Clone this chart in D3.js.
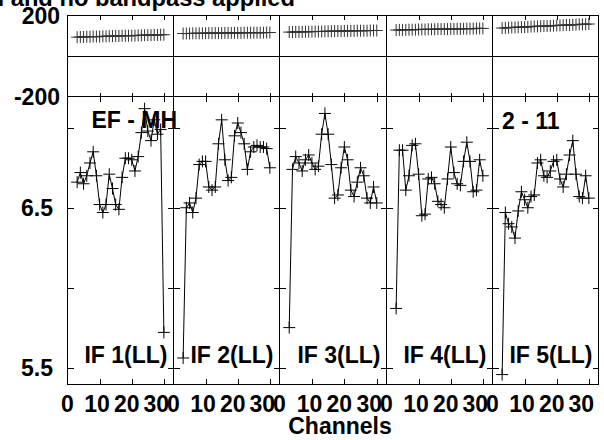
<!DOCTYPE html>
<html><head><meta charset="utf-8">
<script src="https://cdn.jsdelivr.net/npm/d3@7"></script>
<style>
html,body{margin:0;padding:0;background:#fff;overflow:hidden;}
svg{display:block;}
text{font-family:"Liberation Sans",Arial,Helvetica,sans-serif;font-weight:bold;font-size:23px;fill:#000;}
</style></head><body>
<svg id="c" width="604" height="440"></svg>
<script>
// ---- data ----
const channels = [3,4,5,6,7,8,9,10,11,12,13,14,15,16,17,18,19,20,21,22,23,24,25,26,27,28,29,30];
const ifLabels = ["IF 1(LL)","IF 2(LL)","IF 3(LL)","IF 4(LL)","IF 5(LL)"];
const ampIF1 = [6.66,6.72,6.65,6.70,6.78,6.85,6.70,6.52,6.47,6.52,6.71,6.62,6.52,6.49,6.69,6.81,6.81,6.80,6.73,6.82,6.97,7.12,6.98,6.92,7.05,6.96,6.99,5.72];
const ampIF2 = [5.56,6.50,6.53,6.47,6.56,6.77,6.79,6.79,6.63,6.61,6.63,6.90,7.05,6.80,6.67,6.69,6.95,7.03,6.97,6.90,6.74,6.85,6.88,6.89,6.88,6.88,6.87,6.75];
const ampIF3 = [5.75,6.74,6.82,6.78,6.73,6.80,6.83,6.78,6.74,6.76,6.96,7.09,6.96,6.77,6.56,6.58,6.75,6.88,6.80,6.61,6.57,6.66,6.75,6.70,6.56,6.53,6.63,6.53];
const ampIF4 = [5.87,6.86,6.86,6.61,6.70,6.89,6.90,6.71,6.45,6.46,6.68,6.69,6.65,6.54,6.52,6.50,6.68,6.88,6.72,6.65,6.64,6.79,6.91,6.79,6.60,6.61,6.80,6.70];
const ampIF5 = [5.456,6.47,6.40,6.38,6.31,6.48,6.60,6.55,6.50,6.57,6.58,6.78,6.80,6.70,6.69,6.73,6.79,6.80,6.68,6.63,6.71,6.83,6.92,6.71,6.57,6.56,6.70,6.56];
const phaseIF1 = [93,94,94,95,95,96,96,96,97,97,98,98,99,99,100,100,100,101,101,102,102,103,103,103,104,104,105,105];
const phaseIF2 = [111,111,111,112,112,112,112,113,113,113,113,113,113,114,114,114,114,114,114,115,115,115,115,115,115,115,116,116];
const phaseIF3 = [118,118,119,119,119,120,120,120,121,121,121,122,122,122,123,123,123,124,124,124,124,125,125,125,125,126,126,126];
const phaseIF4 = [128,129,129,129,130,130,130,131,131,131,132,132,132,133,133,133,133,134,134,134,134,135,135,135,135,136,136,136];
const phaseIF5 = [138,139,140,141,141,142,143,143,144,145,146,146,147,148,148,149,150,151,151,152,153,153,154,155,156,156,157,158];
const ampSeries = [ampIF1, ampIF2, ampIF3, ampIF4, ampIF5];
const phaseSeries = [phaseIF1, phaseIF2, phaseIF3, phaseIF4, phaseIF5];
const xTicks = [10,20,30];
const xTickLabels = [0,10,20,30];
const ampTicks = [5.5,6.0,6.5,7.0];
const ampTickLabels = ["6.5","5.5"];
const phaseTickLabels = ["200","-200"];
const titleText = "Calibration applied and no bandpass applied";
const baselineLeft = "EF - MH";
const baselineRight = "2 - 11";
const xTitle = "Channels";

// ---- layout ----
const svg = d3.select("#c");
const left = 67, right = 598, phTop = 15.5, phBot = 96.5, ampBot = 384.5;
const pw = (right - left) / 5;
const ampY = d3.scaleLinear().domain([5.394, 7.196]).range([ampBot, phBot]);
const phY = d3.scaleLinear().domain([-200, 200]).range([phBot, phTop]);

function plus(x, y, s) { return `M${x - s},${y}h${2 * s}M${x},${y - s}v${2 * s}`; }

const noDomain = g => g.select(".domain").remove();

for (let i = 0; i < 5; i++) {
  const x0 = Math.round(left + i * pw) + 0.5;
  const x1 = Math.round(left + (i + 1) * pw) + 0.5;
  const x = d3.scaleLinear().domain([0, 33]).range([x0, x1]);
  const g = svg.append("g");

  // frames
  g.append("rect").attr("x", x0).attr("y", phTop).attr("width", x1 - x0).attr("height", phBot - phTop)
    .attr("fill", "none").attr("stroke", "#000").attr("stroke-width", 1).attr("shape-rendering", "crispEdges");
  g.append("rect").attr("x", x0).attr("y", phBot).attr("width", x1 - x0).attr("height", ampBot - phBot)
    .attr("fill", "none").attr("stroke", "#000").attr("stroke-width", 1).attr("shape-rendering", "crispEdges");
  g.append("line").attr("x1", x0).attr("x2", x1).attr("y1", Math.round(phY(0)) + 0.5).attr("y2", Math.round(phY(0)) + 0.5)
    .attr("stroke", "#000").attr("shape-rendering", "crispEdges");

  // ticks (via d3 axes)
  const tk = (sel) => sel.call(noDomain).selectAll("line").attr("shape-rendering", "crispEdges");
  g.append("g").attr("transform", `translate(0,${phTop})`)
    .call(d3.axisTop(x).tickValues(xTicks).tickSize(-4).tickFormat("")).call(tk);
  g.append("g").attr("transform", `translate(0,${phBot})`)
    .call(d3.axisBottom(x).tickValues(xTicks).tickSize(-4).tickFormat("")).call(tk);
  g.append("g").attr("transform", `translate(0,${phBot})`)
    .call(d3.axisTop(x).tickValues(xTicks).tickSize(-5).tickFormat("")).call(tk);
  g.append("g").attr("transform", `translate(0,${ampBot})`)
    .call(d3.axisBottom(x).tickValues(xTicks).tickSize(-6).tickFormat("")).call(tk);
  g.append("g").attr("transform", `translate(${x0},0)`)
    .call(d3.axisLeft(ampY).tickValues(ampTicks).tickSize(-6).tickFormat("")).call(tk);
  g.append("g").attr("transform", `translate(${x1},0)`)
    .call(d3.axisRight(ampY).tickValues(ampTicks).tickSize(-6).tickFormat("")).call(tk);

  // bottom tick labels
  g.selectAll("text.xl").data(xTickLabels).enter().append("text")
    .attr("x", d => x(d) - d * 0.25).attr("y", 412).attr("text-anchor", "middle").text(d => d);

  // IF label
  g.append("text").attr("x", x1 - 6).attr("y", 363).attr("text-anchor", "end").text(ifLabels[i]);

  // amplitude
  const amp = ampSeries[i];
  const line = d3.line().x((d, j) => x(channels[j])).y(d => ampY(d));
  g.append("path").attr("d", line(amp)).attr("fill", "none").attr("stroke", "#000").attr("stroke-width", 1);
  g.append("path").attr("d", amp.map((d, j) => plus(x(channels[j]), ampY(d), 6)).join(""))
    .attr("fill", "none").attr("stroke", "#000").attr("stroke-width", 1);

  // phase
  const ph = phaseSeries[i];
  const pline = d3.line().x((d, j) => x(channels[j])).y(d => phY(d));
  g.append("path").attr("d", pline(ph)).attr("fill", "none").attr("stroke", "#000").attr("stroke-width", 1.2);
  g.append("path").attr("d", ph.map((d, j) => plus(x(channels[j]), phY(d), 6)).join(""))
    .attr("fill", "none").attr("stroke", "#333").attr("stroke-width", 1);

  if (i === 0) {
    g.append("text").attr("x", x0 + 24).attr("y", 128).text(baselineLeft);
  }
  if (i === 4) {
    g.append("text").attr("x", x0 + 9.5).attr("y", 129).text(baselineRight);
  }
}

// y labels
svg.selectAll("text.pl").data(phaseTickLabels).enter().append("text")
  .attr("x", 60).attr("y", d => phY(+d) + 8.5).attr("text-anchor", "end").text(d => d);
svg.selectAll("text.al").data(ampTickLabels).enter().append("text")
  .attr("x", 53).attr("y", d => ampY(+d) + 8.5).attr("text-anchor", "end").text(d => d);

// titles
svg.append("text").attr("x", 295).attr("y", 6).attr("text-anchor", "end").style("font-size", "23.7px").text(titleText);
svg.append("text").attr("x", 340).attr("y", 434).attr("text-anchor", "middle").text(xTitle);
</script>
</body></html>
